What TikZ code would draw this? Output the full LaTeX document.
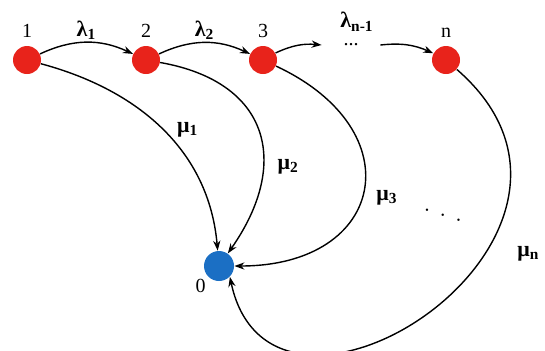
\documentclass[tikz,border=0pt]{standalone}
\usepackage{fontspec}
\setmainfont{Liberation Serif}
\usetikzlibrary{positioning,arrows.meta}
\definecolor{state}{HTML}{E8231B}
\definecolor{absorb}{HTML}{1B6FC4}

\begin{document}
\begin{tikzpicture}[x=0.5pt,y=-0.5pt,
  st/.style={circle,fill=state,minimum size=14pt,inner sep=0pt},
  lbl/.style={inner sep=1pt,font=\normalsize},
  rlbl/.style={inner sep=1pt,font=\fontsize{11}{13}\selectfont\bfseries},
  rate/.style={->,line width=0.7pt},
  >={Stealth[length=5pt,width=3.6pt]}]
\useasboundingbox (0,0) rectangle (545,350);
\node[st] (n1) at (27,60) {};
\node[st] (n2) at (146,60) {};
\node[st] (n3) at (263,60) {};
\node[st] (nn) at (446,60) {};
\node[st,fill=absorb,minimum size=15pt] (n0) at (219,266) {};
\node[lbl,above=3pt of n1] (l1) {1};
\node[lbl,above=3pt of n2] (l2) {2};
\node[lbl,above=3pt of n3] (l3) {3};
\node[lbl,above=3pt of nn] (ln) {n};
\node[lbl,below left=0pt of n0] (l0) {0};
\node[inner sep=0pt,minimum width=29pt] (dots) at (351,45) {...};
\node[rlbl,above=5pt of dots,xshift=3pt] (lnm) {λ\textsubscript{n-1}};
\draw[rate] (n1) to[bend left=25] node[rlbl,above]{λ\textsubscript{1}} (n2);
\draw[rate] (n2) to[bend left=25] node[rlbl,above]{λ\textsubscript{2}} (n3);
\draw[rate] (n3) to[bend left=15] (dots.west);
\draw[rate] (dots.east) to[bend left=15] (nn);
\draw[rate] (n1) to[out=-15,in=95] node[rlbl,pos=0.5,right=6pt]{μ\textsubscript{1}} (n0);
\draw[rate] (n2) to[out=-10,in=55,looseness=1.4] node[rlbl,pos=0.66,right=6pt]{μ\textsubscript{2}} (n0);
\draw[rate] (n3) to[out=-25,in=0,looseness=1.9] node[rlbl,pos=0.53,right=6pt]{μ\textsubscript{3}} (n0);
\draw[rate] (nn) to[out=-41,in=-78,out looseness=2.1,in looseness=1.7] node[rlbl,pos=0.36,right=15pt]{μ\textsubscript{n}} (n0.-45);
\node[lbl,rotate=-18] (more) at (442,218) {·\hspace{5pt}·\hspace{5pt}·};
\end{tikzpicture}
\end{document}
